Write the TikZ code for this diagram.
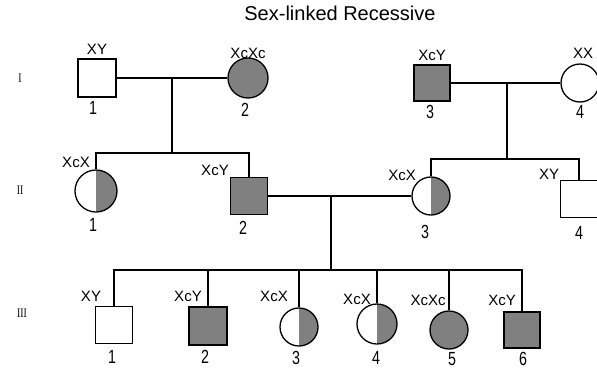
\documentclass[tikz,border=0pt]{standalone}
\usepackage{fontspec}
\setmainfont{Liberation Sans}
\newfontfamily\genfont{Liberation Serif}
\usetikzlibrary{positioning,calc}
\definecolor{pedgray}{HTML}{808080}

\tikzset{
    male/.style={draw, rectangle, minimum size=38pt, inner sep=0pt, line width=1.3pt},
    female/.style={draw, circle, minimum size=40pt, inner sep=0pt, line width=1.3pt},
    affected/.style={fill=pedgray},
    carrier/.style={path picture={\fill[pedgray] (path picture bounding box.north) rectangle (path picture bounding box.south east);}},
    geno/.style={font=\fontsize{15}{15}\selectfont},
    idnum/.style={font=\fontsize{19}{19}\selectfont},
    gen/.style={font=\genfont\fontsize{13}{13}\selectfont},
    link/.style={line width=1.3pt},
}
\newcommand{\narrow}[1]{\scalebox{0.75}[1]{#1}}

\begin{document}
\begin{tikzpicture}[x=1pt, y=-1pt]
    \useasboundingbox (0,0) rectangle (597,370);

    % Title
    \node[font=\fontsize{20}{20}\selectfont] (title) at (340,13) {Sex-linked Recessive};

    % Generation labels
    \node[gen] (gI) at (20,78) {\narrow{I}};
    \node[gen] (gII) at (20,190) {\narrow{II}};
    \node[gen] (gIII) at (22,313) {\narrow{III}};

    % Generation I
    \node[male] (I1) at (97,78) {};
    \node[female, affected] (I2) at (248,78) {};
    \node[male, affected, minimum size=36pt] (I3) at (432,83) {};
    \node[female, minimum size=38pt] (I4) at (580,83) {};

    \node[geno] (tI1) at (97,49) {XY};
    \node[geno] (tI2) at (248,53) {XcXc};
    \node[geno] (tI3) at (432,55) {XcY};
    \node[geno] (tI4) at (583,53) {XX};
    \node[idnum] (nI1) at (93,108) {\narrow{1}};
    \node[idnum] (nI2) at (245,110) {\narrow{2}};
    \node[idnum] (nI3) at (430,112) {\narrow{3}};
    \node[idnum] (nI4) at (580,112) {\narrow{4}};

    % Generation II
    \node[female, carrier, minimum size=42pt] (II1) at (96,191) {};
    \node[male, affected, minimum size=37pt] (II2) at (249,196) {};
    \node[female, carrier, minimum size=38pt] (II3) at (431,196) {};
    \node[male, minimum size=37pt] (II4) at (579,199) {};

    \node[geno] (tII1) at (76,162) {XcX};
    \node[geno] (tII2) at (215,170) {XcY};
    \node[geno] (tII3) at (402,175) {XcX};
    \node[geno] (tII4) at (549,174) {XY};
    \node[idnum] (nII1) at (93,225) {\narrow{1}};
    \node[idnum] (nII2) at (243,228) {\narrow{2}};
    \node[idnum] (nII3) at (425,232) {\narrow{3}};
    \node[idnum] (nII4) at (579,233) {\narrow{4}};

    % Generation III
    \node[male, minimum size=37pt] (III1) at (114,325) {};
    \node[male, affected, minimum size=38pt] (III2) at (208,326) {};
    \node[female, carrier, minimum size=38pt] (III3) at (299,327) {};
    \node[female, carrier] (III4) at (377,324) {};
    \node[female, affected, minimum size=38pt] (III5) at (449,330) {};
    \node[male, affected, minimum size=36pt] (III6) at (522,330) {};

    \node[geno] (tIII1) at (91,296) {XY};
    \node[geno] (tIII2) at (188,296) {XcY};
    \node[geno] (tIII3) at (274,296) {XcX};
    \node[geno] (tIII4) at (357,299) {XcX};
    \node[geno] (tIII5) at (428,300) {XcXc};
    \node[geno] (tIII6) at (502,300) {XcY};
    \node[idnum] (nIII1) at (112,357) {\narrow{1}};
    \node[idnum] (nIII2) at (205,357) {\narrow{2}};
    \node[idnum] (nIII3) at (296,358) {\narrow{3}};
    \node[idnum] (nIII4) at (376,358) {\narrow{4}};
    \node[idnum] (nIII5) at (452,359) {\narrow{5}};
    \node[idnum] (nIII6) at (523,359) {\narrow{6}};

    % Matings and descent
    \coordinate (mI) at (172,78);
    \coordinate (sIIa) at (172,153);
    \draw[link] (I1.east) -- (I2.west);
    \draw[link] (mI) -- (sIIa);
    \draw[link] (II1.north) -- (II1.north |- sIIa) -- (II2.north |- sIIa) -- (II2.north);

    \coordinate (mIb) at (507,83);
    \coordinate (sIIb) at (507,159);
    \draw[link] (I3.east) -- (I4.west);
    \draw[link] (mIb) -- (sIIb);
    \draw[link] (II3.north) -- (II3.north |- sIIb) -- (II4.north |- sIIb) -- (II4.north);

    \coordinate (mII) at (331,196);
    \coordinate (sIII) at (331,270);
    \draw[link] (II2.east) -- (II3.west);
    \draw[link] (mII) -- (sIII);
    \draw[link] (III1.north) -- (III1.north |- sIII) -- (III6.north |- sIII) -- (III6.north);
    \foreach \k in {2,3,4,5}
        \draw[link] (III\k.north) -- (III\k.north |- sIII);
\end{tikzpicture}
\end{document}
